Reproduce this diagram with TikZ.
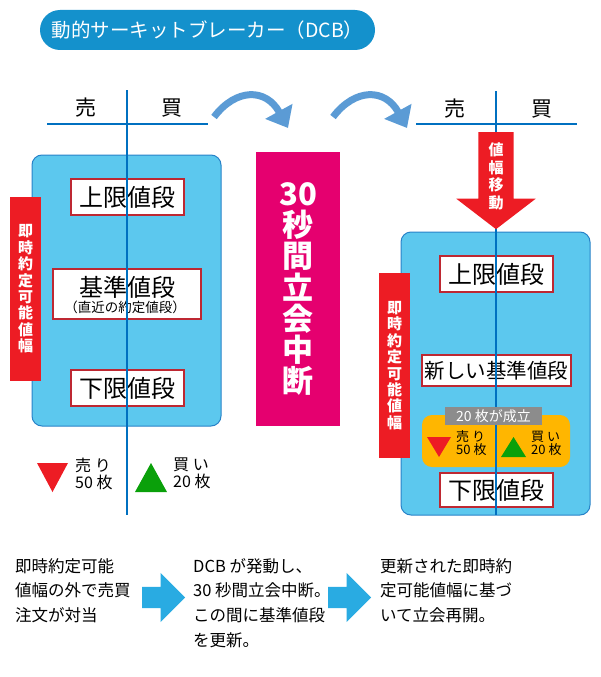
\documentclass[tikz,border=0pt]{standalone}
\usepackage{fontspec}
\setmainfont{Noto Sans CJK JP}
\usetikzlibrary{arrows.meta,shapes.arrows}
\definecolor{pill}{RGB}{20,145,204}
\definecolor{panelfill}{RGB}{92,200,238}
\definecolor{panelline}{RGB}{40,130,200}
\definecolor{boxred}{RGB}{190,40,50}
\definecolor{barred}{RGB}{237,28,36}
\definecolor{haltpink}{RGB}{229,0,111}
\definecolor{tradeorange}{RGB}{255,182,0}
\definecolor{tradegrey}{RGB}{140,140,140}
\definecolor{buygreen}{RGB}{10,160,10}
\definecolor{turnblue}{RGB}{91,155,213}
\definecolor{stepblue}{RGB}{41,171,226}
\definecolor{axisblue}{RGB}{0,112,192}
\begin{document}
\begin{tikzpicture}[x=1pt,y=-1pt,
    panel/.style={draw=panelline,fill=panelfill,line width=1pt,rounded corners=10pt},
    pricebox/.style={draw=boxred,fill=white,line width=2.5pt,inner sep=0pt,
      minimum width=113pt,minimum height=36pt,font=\fontsize{24}{24}\selectfont},
    rangebar/.style={fill=barred,text=white,inner sep=0pt,align=center,
      minimum width=31pt,font=\bfseries\fontsize{15}{16.4}\selectfont},
    axis/.style={axisblue,line width=1.2pt},
    turn/.style={turnblue,line width=7pt,-{Triangle[length=19pt,width=30pt]}},
    flowarrow/.style={single arrow,fill=stepblue,minimum height=43pt,inner xsep=0pt,inner ysep=10.5pt,
      single arrow head extend=14pt,single arrow tip angle=90,anchor=tail},
    note/.style={align=left,anchor=north west,inner sep=0pt,font=\fontsize{16.5}{24.8}\selectfont},
    lot/.style={align=left,anchor=west,inner sep=0pt}]
    \useasboundingbox (0,0) rectangle (600,677);
    \node[fill=pill,text=white,rounded corners=20pt,minimum width=335pt,minimum height=40pt,
      font=\fontsize{19.5}{19.5}\selectfont] (title) at (207.5,30) {動的サーキットブレーカー（DCB）};
    \node[font=\fontsize{21}{21}\selectfont] (L_sell) at (86,108) {売};
    \node[font=\fontsize{21}{21}\selectfont] (L_buy) at (172,108) {買};
    \node[font=\fontsize{21}{21}\selectfont] (R_sell) at (455,109) {売};
    \node[font=\fontsize{21}{21}\selectfont] (R_buy) at (542,109) {買};
    \node[panel,minimum width=189pt,minimum height=271pt] (L_panel) at (126.5,290.5) {};
    \node[panel,minimum width=189pt,minimum height=283pt] (R_panel) at (495.5,373.5) {};
    \node[rangebar,minimum height=184pt] (L_range) at (25.5,289) {即\\時\\約\\定\\可\\能\\値\\幅};
    \node[rangebar,minimum height=185pt] (R_range) at (394.5,365.5) {即\\時\\約\\定\\可\\能\\値\\幅};
    \node[pricebox] (L_upper) at (127.5,197) {上限値段};
    \node[pricebox,minimum width=148pt,minimum height=50pt] (L_base) at (127,294) {};
    \node[inner sep=0pt,font=\fontsize{24}{24}\selectfont] (L_basetxt) at (127,287) {基準値段};
    \node[inner sep=0pt,font=\fontsize{13.5}{13.5}\selectfont] (L_basesub) at (125,307) {（直近の約定値段）};
    \node[pricebox] (L_lower) at (127.5,388) {下限値段};
    \node[pricebox] (R_upper) at (496.5,274) {上限値段};
    \node[pricebox,minimum width=149pt,minimum height=31pt,font=\fontsize{20.5}{20.5}\selectfont] (R_base) at (496.5,370.5) {新しい基準値段};
    \node[fill=tradeorange,rounded corners=10pt,minimum width=148pt,minimum height=52pt] (R_trade) at (496,441) {};
    \node[pricebox,minimum height=34pt] (R_lower) at (496.5,490) {下限値段};
    \fill[barred] (37,463) -- (68,463) -- (52.5,492) -- cycle;
    \fill[buygreen] (135,492) -- (167,492) -- (151,463) -- cycle;
    \fill[barred] (427,437) -- (451,437) -- (439,457) -- cycle;
    \fill[buygreen] (501,457) -- (526,457) -- (513.5,437) -- cycle;
    \node[lot,font=\fontsize{16}{17}\selectfont] (L_sellqty) at (75,473.5) {売 り\\50 枚};
    \node[lot,font=\fontsize{16}{17}\selectfont] (L_buyqty) at (173,473.5) {買 い\\20 枚};
    \node[lot,font=\fontsize{13}{13}\selectfont] (R_sellqty) at (456,443.5) {売 り\\50 枚};
    \node[lot,font=\fontsize{13}{13}\selectfont] (R_buyqty) at (531,443.5) {買 い\\20 枚};
    \coordinate (L_top) at (127,90);
    \coordinate (L_bot) at (127,515);
    \coordinate (L_hl) at (47,124);
    \coordinate (L_hr) at (208,124);
    \coordinate (R_top) at (496,91);
    \coordinate (R_bot) at (496,515);
    \coordinate (R_hl) at (416,124);
    \coordinate (R_hr) at (577,124);
    \draw[axis] (L_top) -- (L_bot);
    \draw[axis] (L_hl) -- (L_hr);
    \draw[axis] (R_top) -- (R_bot);
    \draw[axis] (R_hl) -- (R_hr);
    \node[fill=tradegrey,text=white,inner sep=0pt,minimum width=97pt,minimum height=18pt,
      font=\fontsize{14}{14}\selectfont] (R_done) at (493.5,416) {20 枚が成立};
    \node[single arrow,rotate=-90,fill=barred,minimum height=97pt,inner xsep=0pt,inner ysep=17.5pt,
      single arrow head extend=22pt,single arrow tip angle=105,anchor=tail] (R_shift) at (496,132) {};
    \node[text=white,align=center,inner sep=0pt,font=\bfseries\fontsize{15}{17.6}\selectfont] (R_shifttxt) at (496,176.5) {値\\幅\\移\\動};
    \node[fill=haltpink,text=white,align=center,inner sep=0pt,minimum width=84pt,minimum height=274pt,
      font=\bfseries\fontsize{31}{31.2}\selectfont] (M_halt) at (298,289) {30\\秒\\間\\立\\会\\中\\断};
    \coordinate (T1_s) at (214,117);
    \coordinate (T1_e) at (288,128);
    \coordinate (T2_s) at (333,117);
    \coordinate (T2_e) at (407,128);
    \draw[turn] (T1_s) .. controls (236,88) and (266,88) .. (T1_e);
    \draw[turn] (T2_s) .. controls (355,88) and (385,88) .. (T2_e);
    \node[note] (N_before) at (15,558) {即時約定可能\\値幅の外で売買\\注文が対当};
    \node[note] (N_halt) at (193,558) {DCB が発動し、\\30 秒間立会中断。\\この間に基準値段\\を更新。};
    \node[note] (N_resume) at (380,558) {更新された即時約\\定可能値幅に基づ\\いて立会再開。};
    \node[flowarrow] (F_1) at (142,597.5) {};
    \node[flowarrow] (F_2) at (328,597.5) {};
\end{tikzpicture}
\end{document}
